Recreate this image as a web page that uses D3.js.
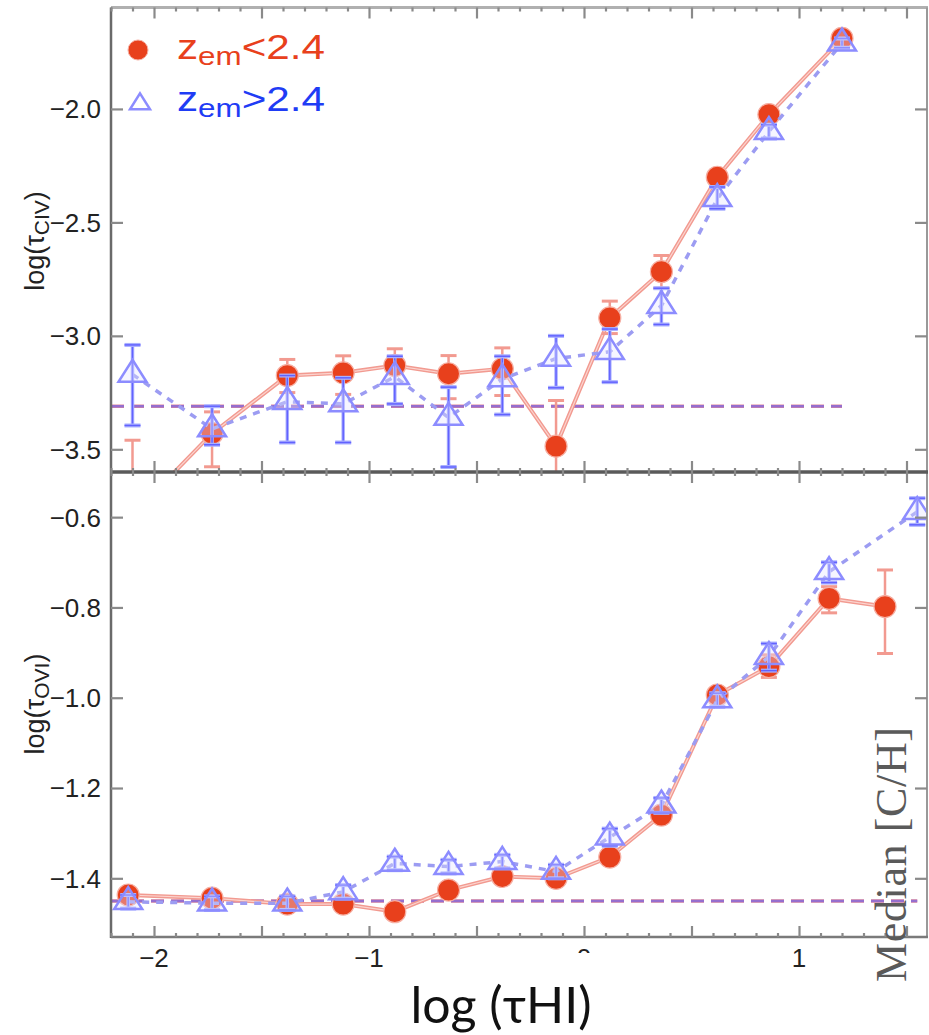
<!DOCTYPE html>
<html><head><meta charset="utf-8">
<script src="https://cdn.jsdelivr.net/npm/d3@7/dist/d3.min.js"></script>
<style>body{margin:0;background:#fff}svg{display:block}</style>
</head><body>
<svg id="c" width="929" height="1035"></svg>
<script>
// ---------- data ----------
const xTicksMajor = [-2, -1.5, -1, -0.5, 0, 0.5, 1, 1.5];
const xTickLabels = [[-2, "\u22122"], [-1, "\u22121"], [0, "0"], [1, "1"]];
const yTicksTop = [-3.5, -3.0, -2.5, -2.0];
const yTicksBot = [-1.4, -1.2, -1.0, -0.8, -0.6];

// top panel: log(tau_CIV)
const xTop = [-2.1, -1.73, -1.38, -1.12, -0.88, -0.63, -0.38, -0.13, 0.12, 0.36, 0.62, 0.86, 1.2];
const civRed   = [-3.79, -3.43, -3.175, -3.163, -3.131, -3.167, -3.145, -3.486, -2.921, -2.717, -2.301, -2.025, -1.689];
const civRedHi = [-3.46, -3.335, -3.104, -3.088, -3.057, -3.087, -3.053, -3.285, -2.847, -2.646, -2.27, -2.0, -1.67];
const civRedLo = [-4.1, -3.577, -3.25, -3.258, -3.30, -3.277, -3.263, -3.70, -2.99, -2.79, -2.33, -2.05, -1.71];
const civBlue   = [-3.17, -3.41, -3.29, -3.30, -3.18, -3.36, -3.19, -3.10, -3.07, -2.867, -2.396, -2.10, -1.71];
const civBlueHi = [-3.04, -3.31, -3.175, -3.185, -3.09, -3.226, -3.09, -3.00, -2.97, -2.79, -2.344, -2.07, -1.69];
const civBlueLo = [-3.395, -3.48, -3.47, -3.47, -3.30, -3.578, -3.347, -3.229, -3.204, -2.95, -2.44, -2.13, -1.73];
const civMedian = -3.31, civMedianEnd = 1.2;

// bottom panel: log(tau_OVI)
const xBotRed  = [-2.12, -1.73, -1.38, -1.12, -0.88, -0.63, -0.38, -0.13, 0.12, 0.36, 0.62, 0.86, 1.14, 1.4];
const oviRed   = [-1.437, -1.444, -1.457, -1.457, -1.474, -1.426, -1.396, -1.40, -1.353, -1.26, -0.994, -0.931, -0.78, -0.798];
const oviRedHi = [-1.425, -1.435, -1.447, -1.447, -1.465, -1.416, -1.386, -1.39, -1.341, -1.245, -0.98, -0.905, -0.754, -0.717];
const oviRedLo = [-1.45, -1.455, -1.467, -1.467, -1.484, -1.436, -1.406, -1.41, -1.365, -1.275, -1.01, -0.955, -0.812, -0.902];
const xBotBlue  = [-2.12, -1.73, -1.38, -1.12, -0.88, -0.63, -0.38, -0.13, 0.12, 0.36, 0.62, 0.86, 1.14, 1.55];
const oviBlue   = [-1.452, -1.455, -1.455, -1.43, -1.367, -1.374, -1.363, -1.385, -1.309, -1.238, -1.005, -0.909, -0.721, -0.588];
const oviBlueHi = [-1.437, -1.44, -1.44, -1.415, -1.352, -1.359, -1.348, -1.37, -1.29, -1.222, -0.99, -0.88, -0.70, -0.558];
const oviBlueLo = [-1.467, -1.47, -1.47, -1.445, -1.382, -1.389, -1.378, -1.40, -1.328, -1.255, -1.02, -0.94, -0.745, -0.617];
const oviMedian = -1.45, oviMedianEnd = 1.55;

// ---------- layout ----------
const L = 111, R = 928, T = 7.5, MID = 472, B = 937;
const RED = "#e8401c", REDL = "#f29a90", BLUE = "#6262ff", BLUEL = "#9c9cf2";

const svg = d3.select("#c");
const x = d3.scaleLinear().domain([-2.2, 1.6]).range([L, R]);
const yT = d3.scaleLinear().domain([-3.6, -1.553]).range([MID, T]);
const yB = d3.scaleLinear().domain([-1.53, -0.5]).range([B, MID]);

const defs = svg.append("defs");
defs.append("clipPath").attr("id", "clipT").append("rect").attr("x", L).attr("y", T).attr("width", R - L).attr("height", MID - T);
defs.append("clipPath").attr("id", "clipB").append("rect").attr("x", L).attr("y", MID).attr("width", R - L).attr("height", B - MID);

function tri(cx, cy, w, h) {
  return `M${cx},${cy - h * 2 / 3}L${cx + w / 2},${cy + h / 3}L${cx - w / 2},${cy + h / 3}Z`;
}

function panel(y, clipId, xsR, vR, hiR, loR, xsB, vB, hiB, loB, med, medEnd) {
  const g = svg.append("g").attr("clip-path", `url(#${clipId})`);
  // median dashed line (red+blue overlapping -> purple)
  g.append("line").attr("x1", x(-2.2)).attr("x2", x(medEnd)).attr("y1", y(med)).attr("y2", y(med))
    .attr("stroke", "#e08a9a").attr("stroke-width", 3.5).attr("stroke-dasharray", "13,7");
  g.append("line").attr("x1", x(-2.2)).attr("x2", x(medEnd)).attr("y1", y(med)).attr("y2", y(med))
    .attr("stroke", "#8a6ad8").attr("stroke-width", 2.5).attr("stroke-dasharray", "13,7").attr("opacity", 0.85);

  const line = d3.line().x(d => x(d[0])).y(d => y(d[1]));
  // red solid line
  const rd = xsR.map((xx, i) => [xx, vR[i]]);
  g.append("path").attr("d", line(rd)).attr("fill", "none").attr("stroke", REDL).attr("stroke-width", 4);
  g.append("path").attr("d", line(rd)).attr("fill", "none").attr("stroke", "#fbd4cf").attr("stroke-width", 1.2);
  // red error bars
  xsR.forEach((xx, i) => {
    const cx = x(xx);
    g.append("line").attr("x1", cx).attr("x2", cx).attr("y1", y(hiR[i])).attr("y2", y(loR[i])).attr("stroke", REDL).attr("stroke-width", 2.5);
    [hiR[i], loR[i]].forEach(v => g.append("line").attr("x1", cx - 8).attr("x2", cx + 8).attr("y1", y(v)).attr("y2", y(v)).attr("stroke", REDL).attr("stroke-width", 3));
  });
  // red circles
  g.selectAll(null).data(rd).enter().append("circle")
    .attr("cx", d => x(d[0])).attr("cy", d => y(d[1])).attr("r", 11)
    .attr("fill", RED).attr("stroke", "#f6b0a4").attr("stroke-width", 1.2);

  // blue dashed line
  const bd = xsB.map((xx, i) => [xx, vB[i]]);
  g.append("path").attr("d", line(bd)).attr("fill", "none").attr("stroke", BLUEL).attr("stroke-width", 3.5).attr("stroke-dasharray", "7,7");
  // blue error bars
  xsB.forEach((xx, i) => {
    const cx = x(xx);
    g.append("line").attr("x1", cx).attr("x2", cx).attr("y1", y(hiB[i])).attr("y2", y(loB[i])).attr("stroke", "#aab0ff").attr("stroke-width", 3.5);
    g.append("line").attr("x1", cx).attr("x2", cx).attr("y1", y(hiB[i])).attr("y2", y(loB[i])).attr("stroke", BLUE).attr("stroke-width", 1.5);
    [hiB[i], loB[i]].forEach(v => {
      g.append("line").attr("x1", cx - 8).attr("x2", cx + 8).attr("y1", y(v)).attr("y2", y(v)).attr("stroke", "#aab0ff").attr("stroke-width", 4);
      g.append("line").attr("x1", cx - 8).attr("x2", cx + 8).attr("y1", y(v)).attr("y2", y(v)).attr("stroke", BLUE).attr("stroke-width", 1.5);
    });
  });
  // blue triangles
  g.selectAll(null).data(bd).enter().append("path")
    .attr("d", d => tri(x(d[0]), y(d[1]), 28, 22))
    .attr("fill", "rgba(225,225,255,0.35)").attr("stroke", "#8c8cff").attr("stroke-width", 2.5);
}

panel(yT, "clipT", xTop, civRed, civRedHi, civRedLo, xTop, civBlue, civBlueHi, civBlueLo, civMedian, civMedianEnd);
panel(yB, "clipB", xBotRed, oviRed, oviRedHi, oviRedLo, xBotBlue, oviBlue, oviBlueHi, oviBlueLo, oviMedian, oviMedianEnd);

// ---------- frame & axes ----------
const frame = svg.append("g");
frame.append("line").attr("x1", L).attr("x2", R).attr("y1", T).attr("y2", T).attr("stroke", "#b0b0b0").attr("stroke-width", 3);
frame.append("line").attr("x1", R - 1).attr("x2", R - 1).attr("y1", T).attr("y2", B).attr("stroke", "#999").attr("stroke-width", 2);
frame.append("line").attr("x1", L).attr("x2", L).attr("y1", T).attr("y2", B + 1).attr("stroke", "#6a6a6a").attr("stroke-width", 2.5);
frame.append("line").attr("x1", L).attr("x2", R).attr("y1", MID).attr("y2", MID).attr("stroke", "#5a5a5a").attr("stroke-width", 3.5);
frame.append("line").attr("x1", L).attr("x2", R).attr("y1", B).attr("y2", B).attr("stroke", "#7a7a7a").attr("stroke-width", 2.5);

// x ticks via d3 axes (inward)
const minorX = d3.range(-22, 16).map(i => i / 10).filter(v => !xTicksMajor.some(m => Math.abs(m - v) < 1e-6));
function xTickSet(yPos, dir) {
  const gMaj = svg.append("g").attr("transform", `translate(0,${yPos})`)
    .call((dir > 0 ? d3.axisBottom(x) : d3.axisTop(x)).tickValues(xTicksMajor).tickSize(11).tickFormat(""));
  const gMin = svg.append("g").attr("transform", `translate(0,${yPos})`)
    .call((dir > 0 ? d3.axisBottom(x) : d3.axisTop(x)).tickValues(minorX).tickSize(4).tickFormat(""));
  [gMaj, gMin].forEach(g => {
    g.select(".domain").remove();
    g.selectAll(".tick line").attr("stroke", "#8a8a8a").attr("stroke-width", 2.2);
  });
}
xTickSet(T, 1);
xTickSet(MID, -1);
xTickSet(MID, 1);
xTickSet(B, -1);

// y ticks left (inward) + labels, right ticks (inward)
function yTickSet(y, vals, fmt) {
  const gl = svg.append("g").attr("transform", `translate(${L},0)`)
    .call(d3.axisRight(y).tickValues(vals).tickSize(12).tickFormat(""));
  const gr = svg.append("g").attr("transform", `translate(${R - 1},0)`)
    .call(d3.axisLeft(y).tickValues(vals).tickSize(12).tickFormat(""));
  [gl, gr].forEach(g => {
    g.select(".domain").remove();
    g.selectAll(".tick line").attr("stroke", "#8a8a8a").attr("stroke-width", 2.2);
  });
  svg.append("g").selectAll("text").data(vals).enter().append("text")
    .attr("x", L - 10).attr("y", d => y(d)).attr("dy", "0.36em")
    .attr("text-anchor", "end").attr("font-family", "Liberation Sans, Arial, sans-serif")
    .attr("font-size", 26).attr("fill", "#222")
    .text(d => (d < 0 ? "\u2212" : "") + fmt(Math.abs(d)));
}
yTickSet(yT, yTicksTop, d3.format(".1f"));
yTickSet(yB, yTicksBot, d3.format(".1f"));

// x tick labels
svg.append("g").selectAll("text").data(xTickLabels).enter().append("text")
  .attr("x", d => x(d[0])).attr("y", 967).attr("text-anchor", "middle")
  .attr("font-family", "Liberation Sans, Arial, sans-serif").attr("font-size", 26).attr("fill", "#222")
  .text(d => d[1]);

// y axis titles
function yTitle(cy, sub) {
  const t = svg.append("text").attr("transform", `translate(44,${cy}) rotate(-90)`)
    .attr("text-anchor", "middle").attr("font-family", "Liberation Sans, Arial, sans-serif")
    .attr("font-size", 27).attr("fill", "#222");
  t.append("tspan").text("log(\u03C4");
  t.append("tspan").attr("font-size", 21).attr("dy", 5).text(sub);
  t.append("tspan").attr("dy", -5).text(")");
}
yTitle(241, "CIV");
yTitle(704, "OVI");

// legend
svg.append("circle").attr("cx", 138).attr("cy", 50).attr("r", 10).attr("fill", RED).attr("stroke", "#f6b0a4").attr("stroke-width", 1);
svg.append("path").attr("d", tri(140, 104, 20, 16)).attr("fill", "none").attr("stroke", "#8c8cff").attr("stroke-width", 2.5);
function legText(yb, op, col) {
  const t = svg.append("text").attr("x", 177).attr("y", yb).attr("font-family", "Liberation Sans, Arial, sans-serif")
    .attr("font-size", 35).attr("fill", col).attr("textLength", 148).attr("lengthAdjust", "spacingAndGlyphs");
  t.append("tspan").text("z");
  t.append("tspan").attr("font-size", 26).attr("dy", 6).text("em");
  t.append("tspan").attr("dy", -6).text(op + "2.4");
}
legText(59, "<", RED);
legText(111, ">", "#1f3cf5");

// leftover annotation at right edge
svg.append("text").attr("transform", "translate(906,982) rotate(-90)")
  .attr("font-family", "Liberation Serif, 'Times New Roman', serif").attr("font-size", 44)
  .attr("fill", "#5a5a5a").attr("textLength", 255).attr("lengthAdjust", "spacing")
  .text("Median [C/H]");

// big x-axis title on white box (covers the 0 label like the reference)
svg.append("rect").attr("x", 400).attr("y", 953).attr("width", 205).attr("height", 82).attr("fill", "#fff");
svg.append("text").attr("x", 501).attr("y", 1023).attr("text-anchor", "middle")
  .attr("font-family", "Lato, 'Open Sans', sans-serif").attr("font-size", 50).attr("fill", "#111")
  .text("log (\u03C4HI)");
</script>
</body></html>
